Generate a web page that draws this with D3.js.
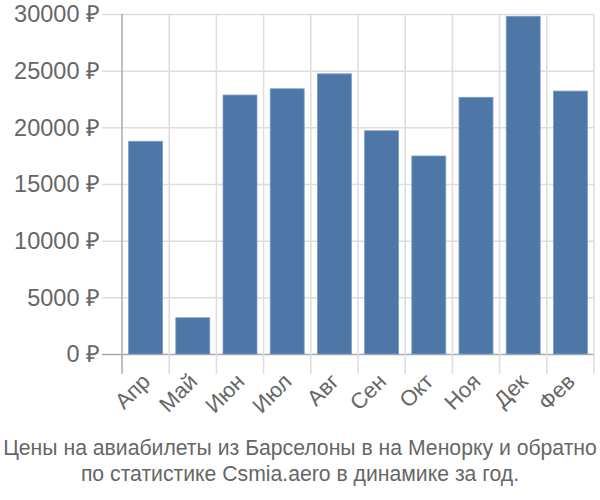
<!DOCTYPE html>
<html><head><meta charset="utf-8">
<script src="https://cdn.jsdelivr.net/npm/d3@7"></script>
<style>body{margin:0;background:#fff}svg{display:block}</style>
</head><body>
<script>
const categories = ["Апр","Май","Июн","Июл","Авг","Сен","Окт","Ноя","Дек","Фев"];
const values = [18770, 3200, 22850, 23400, 24720, 19700, 17470, 22650, 29800, 23200];
const yTicks = [0, 5000, 10000, 15000, 20000, 25000, 30000];
const titleLines = ["Цены на авиабилеты из Барселоны в на Менорку и обратно", "по статистике Csmia.aero в динамике за год."];

const W = 600, H = 500;
const mLeft = 122, mRight = 594, mTop = 14, mBottom = 354;
const svg = d3.select("body").append("svg").attr("width", W).attr("height", H)
  .style("font-family", "'Liberation Sans', Arial, sans-serif");

const x = d3.scaleBand().domain(categories).range([mLeft, mRight]).paddingInner(0.28).paddingOuter(0.14);
const xb = d3.scaleBand().domain(categories).range([mLeft, mRight]);
const y = d3.scaleLinear().domain([0, 30000]).range([mBottom, mTop]);

// horizontal grid
svg.append("g").selectAll("line").data(yTicks).join("line")
  .attr("x1", mLeft - 20).attr("x2", mRight)
  .attr("y1", d => y(d) + 0.5).attr("y2", d => y(d) + 0.5)
  .attr("stroke", d => d === 0 ? "#aaa" : "#ddd").attr("stroke-width", 1.5);
// vertical grid
const vx = categories.map(c => xb(c)).concat([mRight]);
svg.append("g").selectAll("line").data(vx).join("line")
  .attr("x1", d => d).attr("x2", d => d)
  .attr("y1", mTop).attr("y2", mBottom + 20)
  .attr("stroke", (d, i) => i === 0 ? "#aaa" : "#ddd").attr("stroke-width", 1.5);

// bars
svg.append("g").selectAll("rect").data(values).join("rect")
  .attr("x", (d, i) => x(categories[i])).attr("width", x.bandwidth())
  .attr("y", d => y(d)).attr("height", d => y(0) - y(d))
  .attr("fill", "#4c77a7").attr("stroke", "#7d9dc4").attr("stroke-width", 0.8);

// y labels
svg.append("g").selectAll("text").data(yTicks).join("text")
  .attr("x", 100).attr("y", d => y(d)).attr("dy", "0.35em")
  .attr("text-anchor", "end").attr("font-size", 23.5).attr("fill", "#666")
  .text(d => d + " ₽");

// x labels
svg.append("g").selectAll("text").data(categories).join("text")
  .attr("text-anchor", "end").attr("font-size", 22).attr("fill", "#666")
  .attr("transform", c => `translate(${xb(c) + xb.bandwidth()/2 - 5},${mBottom + 18}) rotate(-45)`)
  .attr("dy", "0.7em")
  .text(c => c);

// title
svg.append("g").selectAll("text").data(titleLines).join("text")
  .attr("x", W/2).attr("y", (d, i) => 455 + i * 26)
  .attr("text-anchor", "middle").attr("font-size", 21.2).attr("fill", "#666")
  .text(d => d);
</script>
</body></html>
